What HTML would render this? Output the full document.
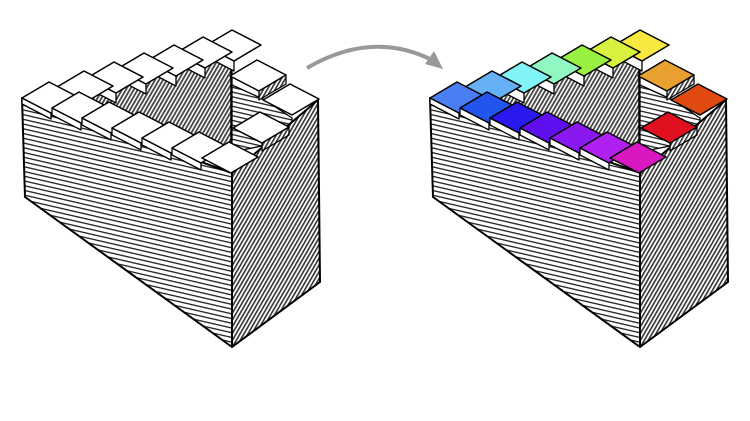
<!DOCTYPE html>
<html><head><meta charset="utf-8">
<style>html,body{margin:0;padding:0;background:#fff;}svg{display:block;}</style>
</head><body>
<svg id="s" width="750" height="421" viewBox="0 0 750 421" xmlns="http://www.w3.org/2000/svg">
<defs>
<pattern id="hf" width="6" height="4.6" patternUnits="userSpaceOnUse" patternTransform="rotate(13)">
<rect width="6" height="4.6" fill="#fff"/><rect y="0" width="6" height="1.3" fill="#222"/></pattern>
<pattern id="hr" width="3.4" height="6" patternUnits="userSpaceOnUse" patternTransform="rotate(30)">
<rect width="3.4" height="6" fill="#fff"/><rect width="1.6" height="6" fill="#333"/></pattern>
<pattern id="hb" width="3.4" height="6" patternUnits="userSpaceOnUse" patternTransform="rotate(30)">
<rect width="3.4" height="6" fill="#fff"/><rect width="1.8" height="6" fill="#444"/></pattern>
</defs>
<path d="M307,68 Q372,30 432,60" fill="none" stroke="#999" stroke-width="4"/>
<polygon points="443,69 425,64 434,51" fill="#999"/>
<g id="L"></g>
<g id="R" transform="translate(408,0)"></g>
</svg>
<script>
var NS="http://www.w3.org/2000/svg";
function poly(g,pts,fill,sw){var p=document.createElementNS(NS,"polygon");p.setAttribute("points",pts.map(function(q){return q[0]+","+q[1]}).join(" "));p.setAttribute("fill",fill);p.setAttribute("stroke","#000");p.setAttribute("stroke-width",sw||1.5);p.setAttribute("stroke-linejoin","round");g.appendChild(p);}
function line(g,a,b,w){var l=document.createElementNS(NS,"line");l.setAttribute("x1",a[0]);l.setAttribute("y1",a[1]);l.setAttribute("x2",b[0]);l.setAttribute("y2",b[1]);l.setAttribute("stroke","#000");l.setAttribute("stroke-width",w||1.5);g.appendChild(l);}
var A=[29,15],B=[27,-16];
function tile(g,L,c,hf,hr){var t=[L[0]+B[0],L[1]+B[1]],b=[L[0]+A[0],L[1]+A[1]],r=[b[0]+B[0],b[1]+B[1]];
if(hf)poly(g,[L,b,[b[0],b[1]+hf],[L[0],L[1]+hf]],"#fff",1.3);
if(hr)poly(g,[b,r,[r[0],r[1]+hr],[b[0],b[1]+hr]],"url(#hr)",1.3);
poly(g,[L,t,r,b],c,1.5);}
function fig(g,colors){
poly(g,[[50,100],[232,45],[232,150],[50,110]],"url(#hb)",1.3);
poly(g,[[232,85],[265,100],[292,118],[292,140],[232,152]],"url(#hf)",1.3);
poly(g,[[22,98],[232,173],[232,347],[25,197]],"url(#hf)",2);
poly(g,[[232,173],[318,100],[320,282],[232,347]],"url(#hr)",2);
line(g,[231,56],[231,150],1.5);
var back=[[205,46],[176,53],[147,61],[117,69],[87,78],[57,87]];
var front=[[202,158],[172,148],[142,138],[112,128],[82,118],[52,108]];
var i;
for(i=0;i<6;i++)tile(g,back[i],colors.back[i],10,0);
tile(g,[230,76],colors.right[0],0,9);
tile(g,[263,100],colors.right[1],0,0);
tile(g,[233,128],colors.right[2],0,8);
tile(g,[22,98],colors.corner,6,0);
for(i=5;i>=1;i--)tile(g,front[i],colors.front[i],7,0);
tile(g,front[0],colors.front[0],0,0);
}
var W={back:["#fff","#fff","#fff","#fff","#fff","#fff"],right:["#fff","#fff","#fff"],front:["#fff","#fff","#fff","#fff","#fff","#fff"],corner:"#fff"};
var C={back:["#f8e840","#d8f040","#98f040","#90f8c0","#80f4f8","#66b0f5"],right:["#e8a030","#e04a10","#e01020"],front:["#d818c0","#b020f0","#8a18f0","#6010f0","#2a1af0","#2255ee"],corner:"#4a7ef5"};
fig(document.getElementById("L"),W);
fig(document.getElementById("R"),C);
</script>
</body></html>
